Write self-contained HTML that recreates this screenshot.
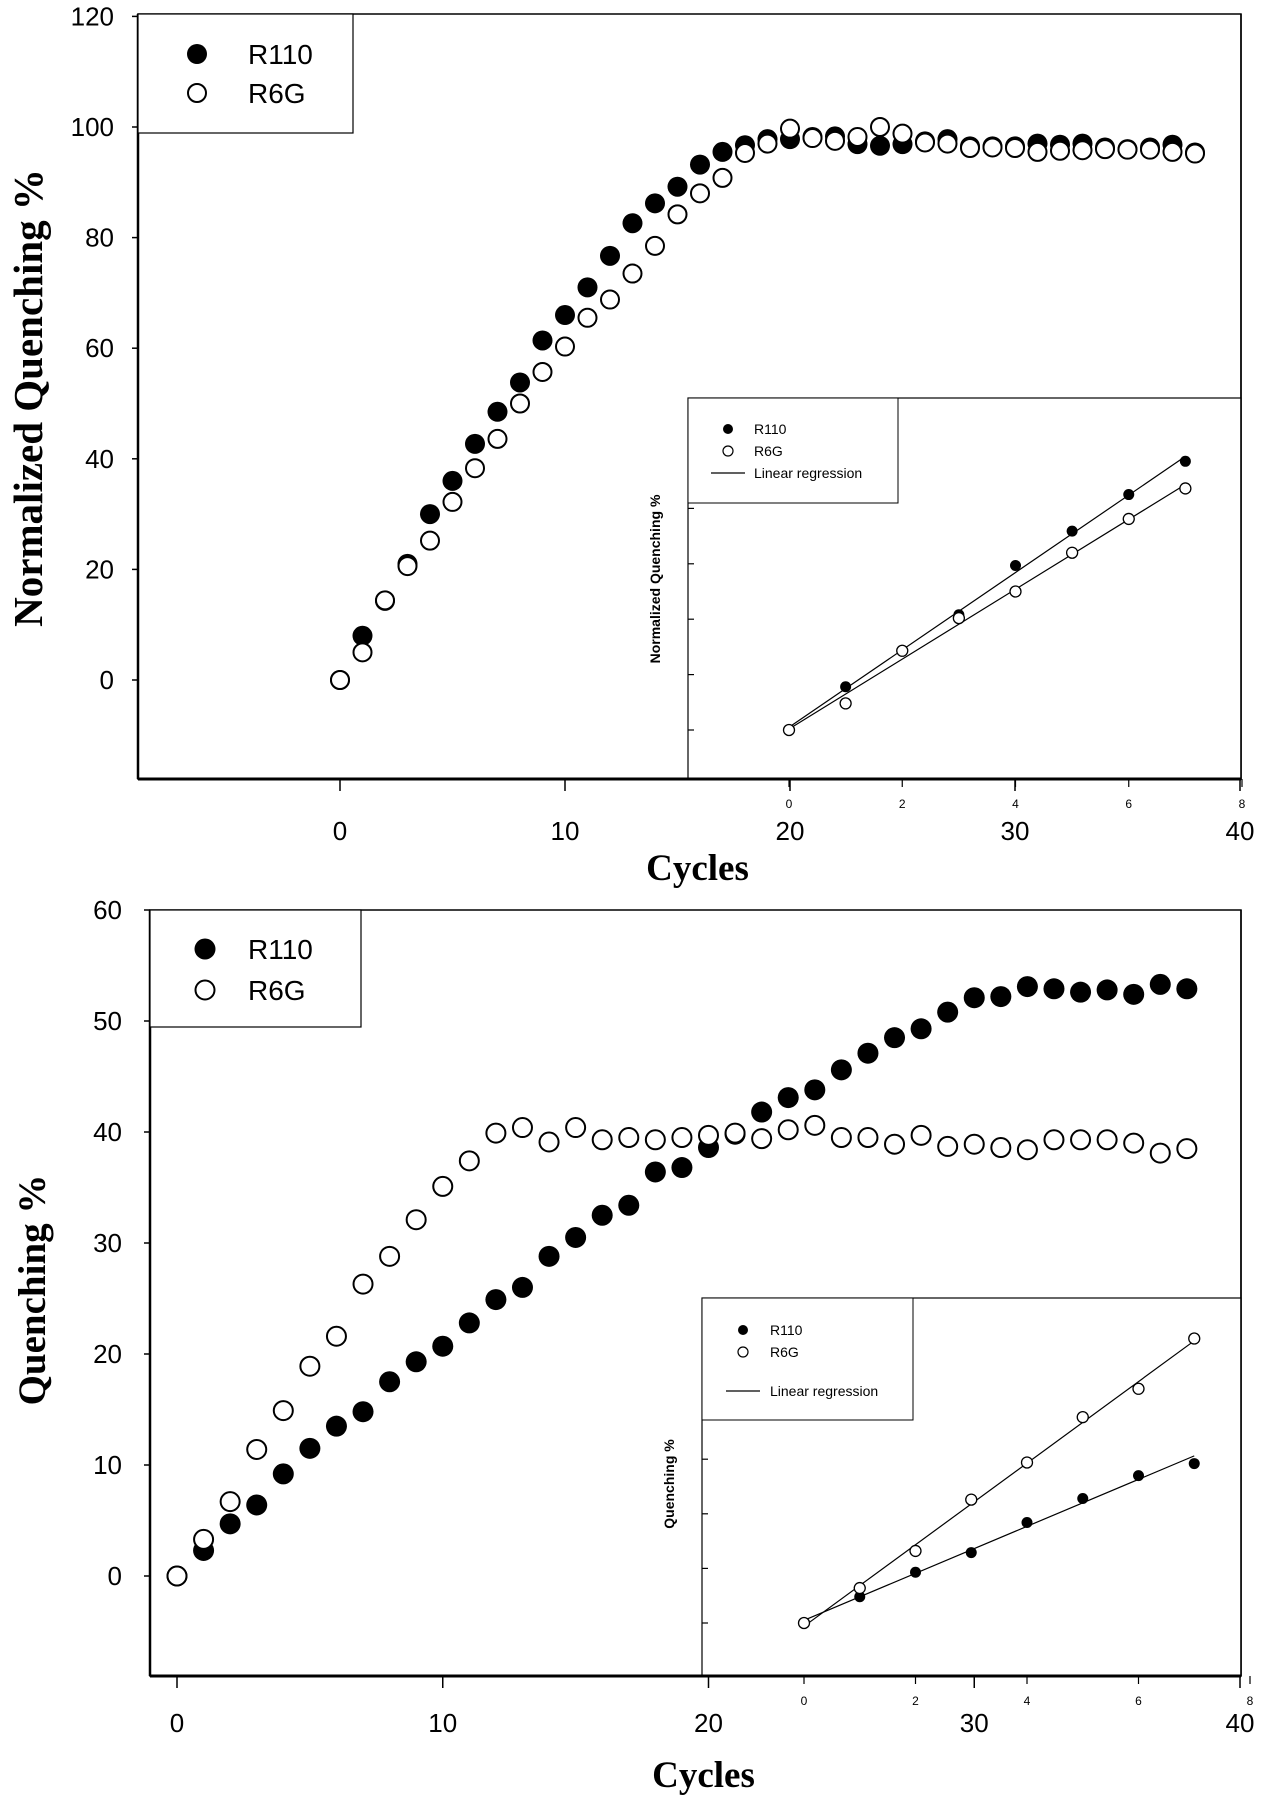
<!DOCTYPE html>
<html><head><meta charset="utf-8"><style>
body{margin:0;background:#fff}
svg{display:block}
text{font-family:"Liberation Sans",sans-serif;fill:#000}
.serif{font-family:"Liberation Serif",serif;font-weight:bold}
.tick{font-family:"Liberation Sans Narrow","Liberation Sans",sans-serif}
</style></head><body>
<svg id="fig" width="1267" height="1800" viewBox="0 0 1267 1800"></svg>
<script>
// ---- Top chart data ----
const topCycles=[0,1,2,3,4,5,6,7,8,9,10,11,12,13,14,15,16,17,18,19,20,21,22,23,24,25,26,27,28,29,30,31,32,33,34,35,36,37,38];
const topR110=[0,8,14.3,21,30,36,42.7,48.5,53.8,61.4,66,71,76.7,82.6,86.2,89.2,93.2,95.5,96.7,97.8,97.8,98.2,98.3,96.9,96.6,96.9,97.4,97.8,96.5,96.5,96.5,97,96.8,97,96.3,96,96.3,96.8,95.4];
const topR6G=[0,5,14.4,20.6,25.2,32.2,38.3,43.6,50,55.7,60.3,65.5,68.8,73.5,78.5,84.2,88,90.8,95.3,97,99.7,98,97.5,98.2,100,98.8,97.2,97,96.2,96.3,96.2,95.5,95.7,95.8,96,95.9,95.9,95.5,95.2];
const topYTicks=[0,20,40,60,80,100,120];
const xTicks=[0,10,20,30,40];
const topInsetX=[0,1,2,3,4,5,6,7];
const topInsetR110=[0,7.8,14.3,20.8,29.7,35.9,42.5,48.5];
const topInsetR6G=[0,4.8,14.3,20.2,25,32,38.1,43.6];
// ---- Bottom chart data ----
const botCycles=topCycles;
const botR110=[0,2.3,4.7,6.4,9.2,11.5,13.5,14.8,17.5,19.3,20.7,22.8,24.9,26,28.8,30.5,32.5,33.4,36.4,36.8,38.6,39.8,41.8,43.1,43.8,45.6,47.1,48.5,49.3,50.8,52.1,52.2,53.1,52.9,52.6,52.8,52.4,53.3,52.9];
const botR6G=[0,3.3,6.7,11.4,14.9,18.9,21.6,26.3,28.8,32.1,35.1,37.4,39.9,40.4,39.1,40.4,39.3,39.5,39.3,39.5,39.7,39.9,39.4,40.2,40.6,39.5,39.5,38.9,39.7,38.7,38.9,38.6,38.4,39.3,39.3,39.3,39,38.1,38.5];
const botYTicks=[0,10,20,30,40,50,60];
const botInsetX=[0,1,2,3,4,5,6,7];
const botInsetR110=[0,4.8,9.3,12.9,18.4,22.8,27,29.2];
const botInsetR6G=[0,6.4,13.2,22.6,29.4,37.7,42.9,52.1];
const insetXTicks=[0,2,4,6,8];

const NS="http://www.w3.org/2000/svg";
const svg=document.getElementById('fig');
function mk(tag,attrs,parent){const e=document.createElementNS(NS,tag);for(const k in attrs)e.setAttribute(k,attrs[k]);(parent||svg).appendChild(e);return e;}
function line(x1,y1,x2,y2,w,p){return mk('line',{x1,y1,x2,y2,stroke:'#000','stroke-width':w},p);}
function txt(s,x,y,size,anchor,p,cls){const t=mk('text',{x,y,'font-size':size,'text-anchor':anchor||'start'},p);if(cls)t.setAttribute('class',cls);t.textContent=s;return t;}
function regress(xs,ys){const n=xs.length;let sx=0,sy=0,sxx=0,sxy=0;for(let i=0;i<n;i++){sx+=xs[i];sy+=ys[i];sxx+=xs[i]*xs[i];sxy+=xs[i]*ys[i];}const b=(n*sxy-sx*sy)/(n*sxx-sx*sx);return{b,a:(sy-b*sx)/n};}

function chart(c){
  const g=mk('g',{});
  
  
  const X=v=>c.x0+(v-0)*(c.x40-c.x0)/40;
  const Y=v=>c.y0-(v)*(c.y0-c.yTop)/c.yMax;
  const fr=mk('rect',{x:c.L,y:c.T,width:c.R-c.L,height:c.B-c.T,fill:'none',stroke:'#000','stroke-width':1.5},g);
  
  line(c.L,c.T,c.L,c.B,2.5,g);line(c.L,c.B,c.R,c.B,3,g);
  c.yTicks.forEach(v=>{const y=Y(v);line(c.L-6,y,c.L,y,1.5,g);
    const t=txt(String(v),c.ylabX,y+9,26,'end',g,'tick');
    });
  xTicks.forEach(v=>{const x=X(v);line(x,c.B,x,c.B+12,1.5,g);
    const t=txt(String(v),x,c.xlabY,26,'middle',g,'tick');
    });
  const xt=txt('Cycles',(c.L+c.R)/2+8,c.xtitleY,37,'middle',g,'serif');
  
  const yt=txt(c.ytitle,0,0,c.ytSize,'middle',g,'serif');
  yt.setAttribute('transform',`translate(${c.ytitleX},${c.ytitleY}) rotate(-90)`);
  
  c.cycles.forEach((cy,i)=>{const p=mk('circle',{cx:X(cy),cy:Y(c.r110[i]),r:c.rad,fill:'#000'},g);
    });
  c.cycles.forEach((cy,i)=>{const p=mk('circle',{cx:X(cy),cy:Y(c.r6g[i]),r:c.rad-1,fill:'#fff',stroke:'#000','stroke-width':2},g);
    });
  const lg=mk('g',{},g);
  mk('rect',{x:c.L,y:c.T,width:c.lgW,height:c.lgH,fill:'#fff',stroke:'#000','stroke-width':1.2},lg);
  const m1=mk('circle',{cx:c.lgMx,cy:c.lgY1,r:c.rad,fill:'#000'},lg);
  const t1=txt('R110',c.lgTx,c.lgY1+10,28,'start',lg,'tick');
  const m2=mk('circle',{cx:c.lgMx,cy:c.lgY2,r:c.rad-1,fill:'#fff',stroke:'#000','stroke-width':2},lg);
  const t2=txt('R6G',c.lgTx,c.lgY2+10,28,'start',lg,'tick');
  const ins=mk('g',{},g);
  const I=c.inset;
  mk('rect',{x:I.L,y:I.T,width:c.R-I.L,height:c.B-I.T,fill:'#fff',stroke:'#000','stroke-width':1.2},ins);
  line(c.L,c.B,c.R,c.B,3,ins);line(c.R,c.T,c.R,c.B,1.5,ins);
  const IX=v=>I.x0+v*(I.x8-I.x0)/8;
  const IY=v=>I.y0-v*I.unit/10;
  for(let k=0;k<=5;k++){const y=IY(k*10);line(I.L,y,I.L+6,y,1.2,ins);}
  insetXTicks.forEach(v=>{const x=IX(v);line(x,c.B,x,c.B+8,1.2,ins);
    const t=txt(String(v),x,I.labY,12,'middle',ins,'tick');});
  const iyt=txt(I.ytitle,0,0,14,'middle',ins);iyt.setAttribute('font-weight','bold');
  iyt.setAttribute('transform',`translate(${I.ytX},${I.ytY}) rotate(-90)`);
  
  [[I.r110],[I.r6g]].forEach(([ys])=>{const r=regress(I.xs,ys);
    const l=line(IX(0),IY(r.a),IX(7),IY(r.a+7*r.b),1.2,ins);});
  I.xs.forEach((xv,i)=>{const p=mk('circle',{cx:IX(xv),cy:IY(I.r110[i]),r:5.5,fill:'#000'},ins);});
  I.xs.forEach((xv,i)=>{const p=mk('circle',{cx:IX(xv),cy:IY(I.r6g[i]),r:5.5,fill:'#fff',stroke:'#000','stroke-width':1.3},ins);});
  const il=mk('g',{},ins);
  mk('rect',{x:I.L,y:I.T,width:I.lgW,height:I.lgH,fill:'#fff',stroke:'#000','stroke-width':1},il);
  mk('circle',{cx:I.lgMx,cy:I.lgY[0],r:5,fill:'#000'},il);
  txt('R110',I.lgTx,I.lgY[0]+5,14,'start',il,'tick');
  mk('circle',{cx:I.lgMx,cy:I.lgY[1],r:5,fill:'#fff',stroke:'#000','stroke-width':1.2},il);
  txt('R6G',I.lgTx,I.lgY[1]+5,14,'start',il,'tick');
  line(I.lgMx-17,I.lgY[2],I.lgMx+17,I.lgY[2],1.2,il);
  txt('Linear regression',I.lgTx,I.lgY[2]+5,14,'start',il,'tick');
}

chart({name:'top-chart',L:138,T:14,R:1241,B:779,x0:340,x40:1240,y0:680,yTop:127,yMax:100,
  yTicks:topYTicks,ylabX:114,xlabY:840,xtitleY:880,ytitle:'Normalized Quenching %',ytSize:41,ytitleX:42,ytitleY:398,
  cycles:topCycles,r110:topR110,r6g:topR6G,rad:10,
  lgW:215,lgH:119,lgMx:197,lgTx:248,lgY1:54,lgY2:93,
  inset:{L:688,T:398,x0:789,x8:1242,y0:730,unit:55.4,labY:808,ytitle:'Normalized Quenching %',ytX:660,ytY:579,
    xs:topInsetX,r110:topInsetR110,r6g:topInsetR6G,
    lgW:210,lgH:105,lgMx:728,lgTx:754,lgY:[429,451,473]}});

chart({name:'bottom-chart',L:150,T:910,R:1241,B:1676,x0:177,x40:1240,y0:1576,yTop:910,yMax:60,
  yTicks:botYTicks,ylabX:122,xlabY:1732,xtitleY:1787,ytitle:'Quenching %',ytSize:39,ytitleX:45,ytitleY:1290,
  cycles:botCycles,r110:botR110,r6g:botR6G,rad:10.5,
  lgW:211,lgH:117,lgMx:205,lgTx:248,lgY1:949,lgY2:990,
  inset:{L:702,T:1298,x0:804,x8:1250,y0:1623,unit:54.6,labY:1705,ytitle:'Quenching %',ytX:674,ytY:1484,
    xs:botInsetX,r110:botInsetR110,r6g:botInsetR6G,
    lgW:211,lgH:122,lgMx:743,lgTx:770,lgY:[1330,1352,1391]}});
</script>
</body></html>
